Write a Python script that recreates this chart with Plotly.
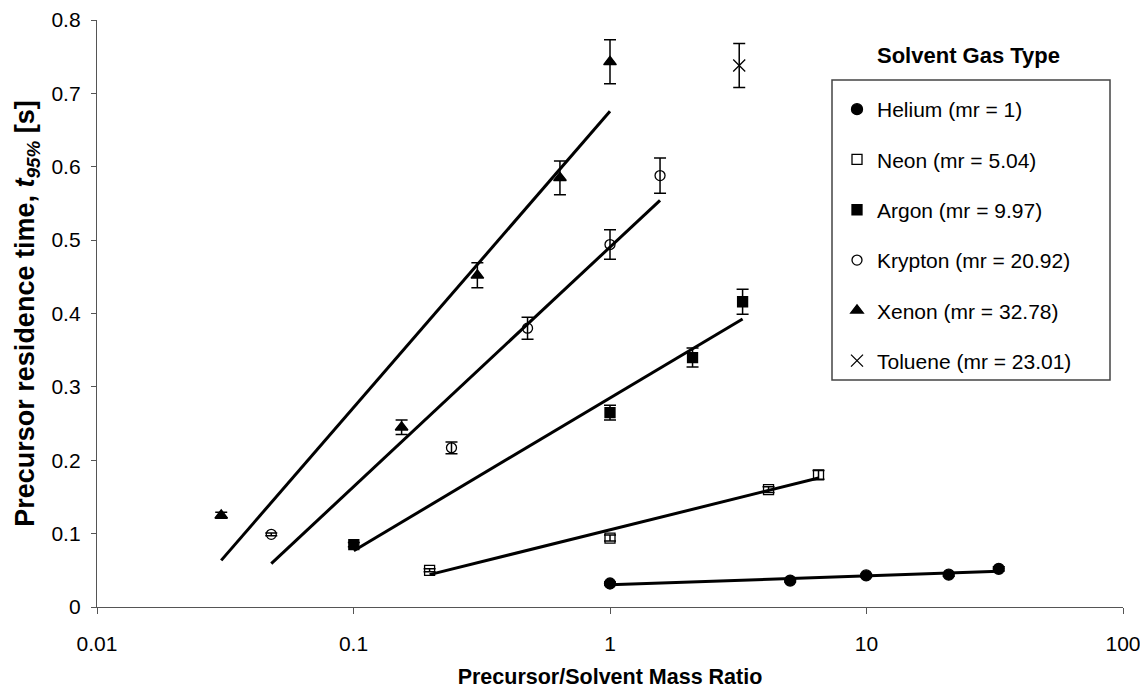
import numpy as np
import plotly.graph_objects as go

# ---- data ----
he_x = [1.0, 5.04, 9.97, 20.92, 32.78]
he_y = [0.032, 0.036, 0.043, 0.044, 0.052]
he_e = [0.002, 0.002, 0.002, 0.002, 0.003]

ne_x = [0.198, 1.0, 4.15, 6.50]
ne_y = [0.050, 0.094, 0.160, 0.180]
ne_e = [0.002, 0.004, 0.004, 0.006]

ar_x = [0.1003, 1.0, 2.098, 3.288]
ar_y = [0.085, 0.265, 0.340, 0.416]
ar_e = [0.003, 0.010, 0.013, 0.017]

kr_x = [0.0478, 0.241, 0.477, 1.0, 1.567]
kr_y = [0.099, 0.217, 0.380, 0.494, 0.588]
kr_e = [0.002, 0.008, 0.015, 0.020, 0.024]

xe_x = [0.0305, 0.154, 0.304, 0.638, 1.0]
xe_y = [0.125, 0.245, 0.452, 0.585, 0.743]
xe_e = [0.004, 0.010, 0.017, 0.023, 0.030]

tol_x = [3.19]
tol_y = [0.738]
tol_e = [0.030]

series = [
    ("Helium (mr = 1)", he_x, he_y, he_e, "circle", 11, True),
    ("Neon (mr = 5.04)", ne_x, ne_y, ne_e, "square-open", 10, True),
    ("Argon (mr = 9.97)", ar_x, ar_y, ar_e, "square", 10, True),
    ("Krypton (mr = 20.92)", kr_x, kr_y, kr_e, "circle-open", 10, True),
    ("Xenon (mr = 32.78)", xe_x, xe_y, xe_e, "triangle-up", 11, True),
    ("Toluene (mr = 23.01)", tol_x, tol_y, tol_e, "x-thin-open", 12, False),
]

x_ticks = [0.01, 0.1, 1, 10, 100]
x_tick_labels = ["0.01", "0.1", "1", "10", "100"]
y_ticks = [0, 0.1, 0.2, 0.3, 0.4, 0.5, 0.6, 0.7, 0.8]

# plot area in page pixels (page has 8px body margin)
PX0, PX1, PY0, PY1 = 97, 1123, 20, 607
PW, PH = PX1 - PX0, PY1 - PY0


def px(xp):
    return (xp - PX0) / PW


def py(yp):
    return (PY1 - yp) / PH


fig = go.Figure()

# logarithmic trendlines (straight on log-x axis)
for name, xs, ys, es, sym, sz, trend in series:
    if not trend:
        continue
    xa = np.array(xs)
    b, a = np.polyfit(np.log(xa), np.array(ys), 1)
    xl = np.array([xa.min(), xa.max()])
    fig.add_trace(go.Scatter(x=xl, y=a + b * np.log(xl), mode="lines",
                             line=dict(color="black", width=3),
                             showlegend=False, hoverinfo="skip"))

for i, (name, xs, ys, es, sym, sz, trend) in enumerate(series):
    fig.add_trace(go.Scatter(
        x=xs, y=ys, mode="markers", name=name, legendgroup=f"g{i}",
        marker=dict(symbol=sym, size=sz, color="black",
                    line=dict(color="black", width=1.3)),
        error_y=dict(type="data", array=es, visible=True, color="black",
                     thickness=1.5, width=6),
    ))

fig.update_layout(
    width=1140, height=685,
    paper_bgcolor="white", plot_bgcolor="white",
    margin=dict(l=PX0 - 8, r=1148 - PX1, t=PY0 - 8, b=693 - PY1),
    font=dict(family="Liberation Sans, Arial, sans-serif", size=21, color="black"),
    showlegend=True,
    legend=dict(x=px(837), y=py(89), xanchor="left", yanchor="top",
                bgcolor="rgba(0,0,0,0)", borderwidth=0,
                font=dict(size=21), tracegroupgap=20, itemwidth=30),
    xaxis=dict(type="log", range=[-2, 2], tickvals=x_ticks, ticktext=x_tick_labels,
               showline=True, linecolor="#555", linewidth=1.3, ticks="outside",
               ticklen=6, tickcolor="#555", showgrid=False, zeroline=False,
               ticklabelstandoff=12, automargin=False,
               title=dict(text="<b>Precursor/Solvent Mass Ratio</b>", standoff=14,
                          font=dict(size=21.5))),
    yaxis=dict(range=[0, 0.8], tickvals=y_ticks,
               showline=True, linecolor="#555", linewidth=1.3, ticks="outside",
               ticklen=5, tickcolor="#555", showgrid=False, zeroline=False,
               ticklabelstandoff=6, automargin=False,
               title=dict(text="<b>Precursor residence time, <i>t<sub>95%</sub></i> [s]</b>",
                          standoff=8, font=dict(size=27))),
    shapes=[dict(type="rect", xref="paper", yref="paper",
                 x0=px(832), x1=px(1110), y0=py(380), y1=py(80),
                 line=dict(color="#444", width=1.5), fillcolor="white", layer="below")],
    annotations=[dict(text="<b>Solvent Gas Type</b>", xref="paper", yref="paper",
                      x=px(968), y=py(55), xanchor="center", yanchor="middle",
                      showarrow=False, font=dict(size=22))],
)

fig.write_html("out.html")
